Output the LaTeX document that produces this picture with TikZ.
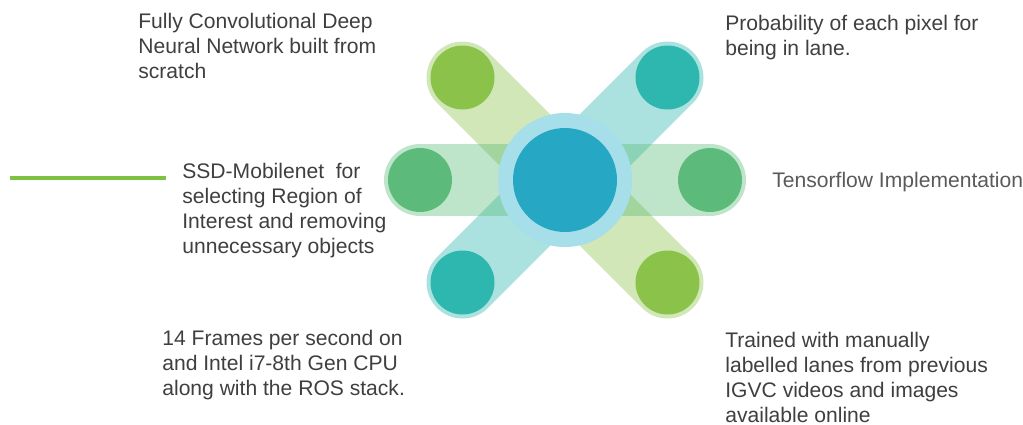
\documentclass[tikz,border=0pt]{standalone}
\usepackage{fontspec}
\setmainfont{Liberation Sans}
\definecolor{leafgreen}{HTML}{8BC34A}
\definecolor{tealdot}{HTML}{2DB7AE}
\definecolor{midgreen}{HTML}{5CBB7A}
\definecolor{hubblue}{HTML}{26A8C4}
\definecolor{hubring}{HTML}{A6DEEA}
\definecolor{textgray}{HTML}{3F3F3F}
\definecolor{softgray}{HTML}{5A5A5A}
\definecolor{linegreen}{HTML}{7DC242}
\tikzset{
  arm/.style={line width=1.44cm, line cap=round, draw opacity=0.4},
  dot/.style={circle, minimum size=1.28cm, inner sep=0pt},
  note/.style={anchor=north west, inner sep=0pt, align=left, text=textgray,
    font=\fontsize{12}{14.2}\selectfont},
}
\begin{document}
\begin{tikzpicture}[x=0.02cm, y=-0.02cm]
\useasboundingbox (0,0) rectangle (1023,424);
% hub and the six ends
\coordinate (hubc) at (565,180);
\coordinate (tl) at (462.5,77.5);
\coordinate (tr) at (667.5,77.5);
\coordinate (ml) at (420,180);
\coordinate (mr) at (710,180);
\coordinate (bl) at (462.5,282.5);
\coordinate (br) at (667.5,282.5);
% arms
\draw[arm, leafgreen] (tl) -- (br);
\draw[arm, tealdot] (tr) -- (bl);
\draw[arm, midgreen] (ml) -- (mr);
% dots
\node[dot, fill=leafgreen] (dottl) at (tl) {};
\node[dot, fill=tealdot] (dottr) at (tr) {};
\node[dot, fill=midgreen] (dotml) at (ml) {};
\node[dot, fill=midgreen] (dotmr) at (mr) {};
\node[dot, fill=tealdot] (dotbl) at (bl) {};
\node[dot, fill=leafgreen] (dotbr) at (br) {};
\node[circle, inner sep=0pt, minimum size=2.68cm, fill=hubring] (ring) at (hubc) {};
\node[circle, inner sep=0pt, minimum size=2.08cm, fill=hubblue] (hub) at (hubc) {};
% texts
\node[note] (conv) at (138,13) {Fully Convolutional Deep\\Neural Network built from\\scratch};
\node[note] (prob) at (725,15) {Probability of each pixel for\\being in lane.};
\node[note] (ssd) at (182,163) {SSD-Mobilenet\ \ for\\selecting Region of\\Interest and removing\\unnecessary objects};
\node[note, anchor=base west, text=softgray] (tf) at (772,187) {Tensorflow Implementation};
\node[note] (fps) at (162,330) {14 Frames per second on\\and Intel i7-8th Gen CPU\\along with the ROS stack.};
\node[note] (train) at (725,332) {Trained with manually\\labelled lanes from previous\\IGVC videos and images\\available online};
% green rule
\coordinate (rulea) at (10,178);
\coordinate (ruleb) at (166,178);
\draw[linegreen, line width=2.3pt] (rulea) -- (ruleb);
\end{tikzpicture}
\end{document}
